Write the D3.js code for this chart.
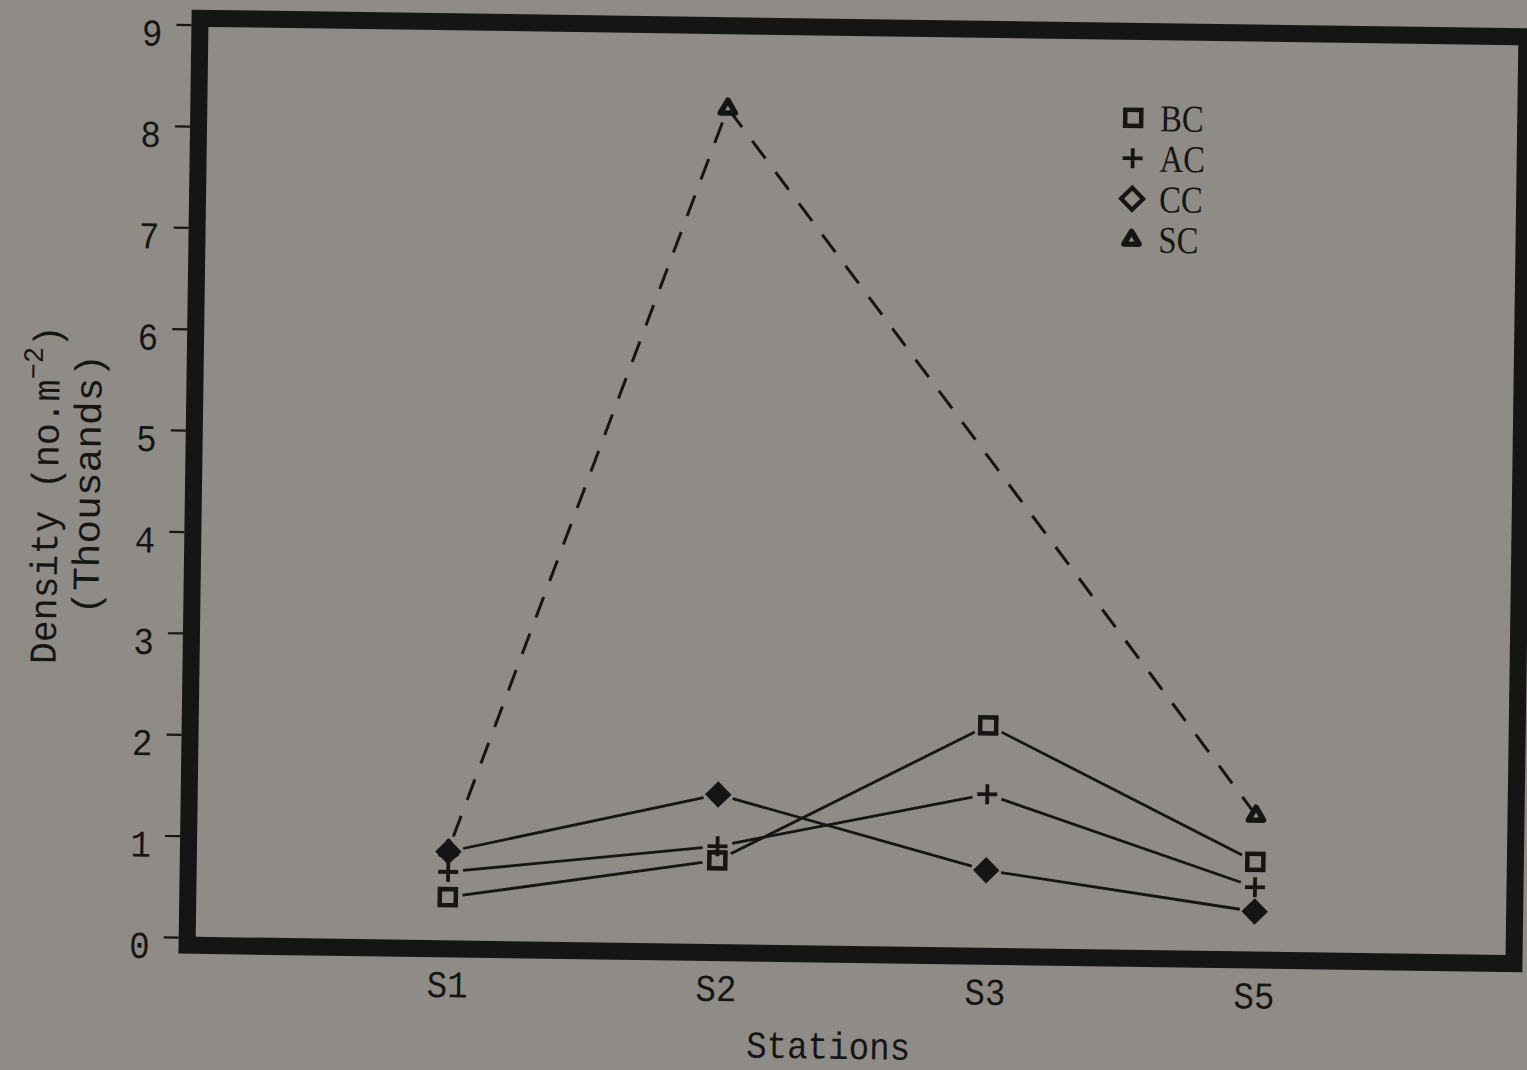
<!DOCTYPE html>
<html>
<head>
<meta charset="utf-8">
<script src="https://cdn.jsdelivr.net/npm/d3@7"></script>
<style>
  html, body { margin: 0; padding: 0; background: #8f8b86; }
  svg { display: block; }
</style>
</head>
<body>
<svg id="chart" width="1527" height="1070"></svg>
<script>
// ---- data ----
const stations = ["S1", "S2", "S3", "S5"];
const seriesNames = ["BC", "AC", "CC", "SC"];
const bcValues = [0.43, 0.83, 2.20, 0.89];
const acValues = [0.68, 0.97, 1.52, 0.64];
const ccValues = [0.88, 1.48, 0.77, 0.40];
const scValues = [0.90, 8.25, 4.80, 1.35];
const yTicks = [0, 1, 2, 3, 4, 5, 6, 7, 8, 9];
const hiddenMarkers = ["SC|S3"];

const valuesBySeries = { BC: bcValues, AC: acValues, CC: ccValues, SC: scValues };

// ---- layout ----
const W = 1527, H = 1070;
const bg = "#8f8b86", ink = "#151515";
const inner = { left: 202, right: 1512, top: 36, bottom: 946 };
const frameW = 17;
const mono = "'Liberation Mono', monospace";
const sx = 0.9; // horizontal condensing of the typewriter text

const svg = d3.select("#chart");
svg.append("rect").attr("width", W).attr("height", H).attr("fill", bg);

const g = svg.append("g").attr("transform", "rotate(0.8, 857, 491)");

const x = d3.scalePoint().domain(stations).range([inner.left, inner.right]).padding(0.935);
const y = d3.scaleLinear().domain([0, 9]).range([946.5, 34]);

// frame
g.append("rect")
  .attr("x", inner.left - frameW / 2).attr("y", inner.top - frameW / 2)
  .attr("width", inner.right - inner.left + frameW)
  .attr("height", inner.bottom - inner.top + frameW)
  .attr("fill", "none").attr("stroke", ink).attr("stroke-width", frameW);

// y axis
const yAxis = d3.axisLeft(y).tickValues(yTicks).tickSize(15).tickPadding(14).tickFormat(d3.format("d"));
const ya = g.append("g").attr("transform", `translate(${inner.left - frameW},0)`).call(yAxis);
ya.select(".domain").remove();
ya.selectAll(".tick line").attr("stroke", ink).attr("stroke-width", 2.2);
ya.selectAll(".tick text").attr("fill", ink)
  .attr("x", -29 / sx).attr("dy", "0.55em")
  .attr("transform", `scale(${sx},1)`)
  .style("font-family", mono).style("font-size", "38px");

// x axis labels
const xAxis = d3.axisBottom(x).tickSize(0).tickPadding(0);
const xa = g.append("g").attr("transform", `translate(0,${inner.bottom + frameW + 21})`).call(xAxis);
xa.select(".domain").remove();
xa.selectAll(".tick text").attr("fill", ink).attr("dy", "0.5em")
  .attr("transform", `scale(${sx},1)`)
  .style("font-family", mono).style("font-size", "38px");

// axis titles
g.append("text").attr("transform", `translate(836,1059) scale(${sx},1)`).attr("text-anchor", "middle")
  .attr("fill", ink).style("font-family", mono).style("font-size", "38px")
  .text("Stations");

const yt = g.append("text").attr("transform", "translate(58,506) rotate(-90) scale(0.96,1)")
  .attr("text-anchor", "middle").attr("fill", ink)
  .style("font-family", mono).style("font-size", "38px");
yt.append("tspan").text("Density (no.m");
yt.append("tspan").attr("dy", -17).style("font-size", "28px").text("−2");
yt.append("tspan").attr("dy", 17).text(")");

g.append("text").attr("transform", "translate(100,495) rotate(-90) scale(1.04,1)")
  .attr("text-anchor", "middle").attr("fill", ink)
  .style("font-family", mono).style("font-size", "38px")
  .text("(Thousands)");

// ---- lines ----
const gap = 15;
function pts(name) {
  return stations.map((s, i) => ({ s, name, px: x(s), py: y(valuesBySeries[name][i]) }));
}
["BC", "AC", "CC"].forEach(name => {
  const p = pts(name);
  for (let i = 0; i < p.length - 1; i++) {
    const a = p[i], b = p[i + 1];
    const dx = b.px - a.px, dy = b.py - a.py, L = Math.hypot(dx, dy);
    const ux = dx / L, uy = dy / L;
    g.append("line")
      .attr("x1", a.px + ux * gap).attr("y1", a.py + uy * gap)
      .attr("x2", b.px - ux * gap).attr("y2", b.py - uy * gap)
      .attr("stroke", ink).attr("stroke-width", 2.8);
  }
});
// SC dashed
{
  const p = pts("SC");
  const line = d3.line().x(d => d.px).y(d => d.py);
  g.append("path").attr("d", line(p)).attr("fill", "none")
    .attr("stroke", ink).attr("stroke-width", 3).attr("stroke-dasharray", "22,17")
    .attr("stroke-dashoffset", -14);
}

// ---- markers ----
function drawMarker(sel, name, cx, cy, legend) {
  if (name === "BC") {
    sel.append("rect").attr("x", cx - 8).attr("y", cy - 8).attr("width", 16).attr("height", 16)
      .attr("fill", bg).attr("stroke", ink).attr("stroke-width", 4.5);
  } else if (name === "AC") {
    sel.append("path").attr("d", `M${cx - 10},${cy}H${cx + 10}M${cx},${cy - 10}V${cy + 10}`)
      .attr("stroke", ink).attr("stroke-width", 3.8).attr("fill", "none");
  } else if (name === "CC") {
    const r = legend ? 11 : 12.5;
    sel.append("path").attr("d", `M${cx},${cy - r}L${cx + r},${cy}L${cx},${cy + r}L${cx - r},${cy}Z`)
      .attr("fill", legend ? bg : ink).attr("stroke", ink).attr("stroke-width", legend ? 4.2 : 1);
  } else if (name === "SC") {
    const r = 8;
    sel.append("path").attr("d", `M${cx},${cy - r}L${cx + r * 0.95},${cy + r * 0.6}L${cx - r * 0.95},${cy + r * 0.6}Z`)
      .attr("fill", bg).attr("stroke", ink).attr("stroke-width", 5.5).attr("stroke-linejoin", "round");
  }
}
const mg = g.append("g");
["SC", "BC", "AC", "CC"].forEach(name => {
  pts(name).forEach(d => {
    if (hiddenMarkers.includes(name + "|" + d.s)) return;
    drawMarker(mg, name, d.px, d.py, false);
  });
});

// ---- legend ----
const lg = g.append("g");
seriesNames.forEach((name, i) => {
  const cy = 114 + i * 40.5;
  drawMarker(lg, name, 1128, cy, true);
  lg.append("text").attr("transform", `translate(1155,${cy + 13}) scale(0.86,1)`).attr("fill", ink)
    .style("font-family", "'Liberation Serif', serif").style("font-size", "38px")
    .text(name);
});
</script>
</body>
</html>
